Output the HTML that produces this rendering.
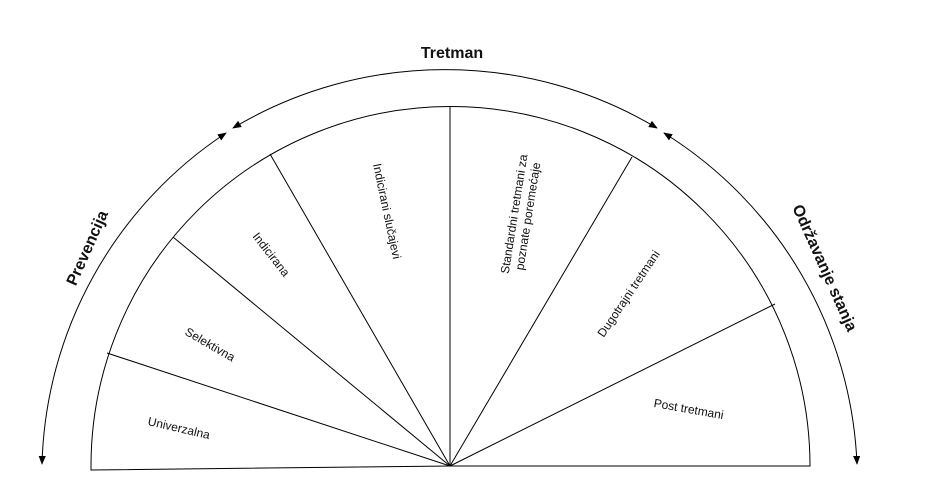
<!DOCTYPE html>
<html><head><meta charset="utf-8"><style>
html,body{margin:0;padding:0;background:#fff;}
svg{display:block;}
text{font-family:"Liberation Sans",sans-serif;fill:#111;}
</style></head><body>
<svg width="929" height="495" viewBox="0 0 929 495" xmlns="http://www.w3.org/2000/svg">
<defs>
<marker id="a" viewBox="0 0 10 10" refX="9" refY="5" markerWidth="9" markerHeight="9" orient="auto-start-reverse" markerUnits="userSpaceOnUse">
<path d="M0,1 L10,5 L0,9 z" fill="#000"/></marker>
</defs>
<g stroke="#000" stroke-width="1" fill="none">
<path d="M91,470 L450,466 L810,466 L810,466 A359,359 0 0 0 91,466 Z" fill="#fff"/>
<line x1="450" y1="466" x2="107" y2="353"/>
<line x1="450" y1="466" x2="173" y2="237"/>
<line x1="450" y1="466" x2="270" y2="154"/>
<line x1="450" y1="466" x2="450" y2="107"/>
<line x1="450" y1="466" x2="632" y2="157"/>
<line x1="450" y1="466" x2="775" y2="304"/>
<path d="M226,133 A410,410 0 0 0 42,464" marker-start="url(#a)" marker-end="url(#a)"/>
<path d="M233,128 A414,414 0 0 1 657,128" marker-start="url(#a)" marker-end="url(#a)"/>
<path d="M664,133 A410,410 0 0 1 857,464" marker-start="url(#a)" marker-end="url(#a)"/>
</g>
<text x="452" y="58" font-size="16" font-weight="bold" text-anchor="middle">Tretman</text>
<text transform="translate(92,250) rotate(-66)" font-size="16" font-weight="bold" text-anchor="middle">Prevencija</text>
<text transform="translate(820,270) rotate(66)" font-size="16" font-weight="bold" text-anchor="middle">Održavanje stanja</text>
<text transform="translate(178,432) rotate(13)" font-size="12" text-anchor="middle">Univerzalna</text>
<text transform="translate(208,348) rotate(30)" font-size="12" text-anchor="middle">Selektivna</text>
<text transform="translate(268,257) rotate(52)" font-size="12" text-anchor="middle">Indicirana</text>
<text transform="translate(383,212) rotate(78)" font-size="12" text-anchor="middle">Indicirani slučajevi</text>
<text transform="translate(520,215) rotate(-81)" font-size="12" text-anchor="middle">
<tspan x="0" dy="-2">Standardni tretmani za</tspan><tspan x="0" dy="14">poznate poremećaje</tspan></text>
<text transform="translate(632,296) rotate(-56)" font-size="12" text-anchor="middle">Dugotrajni tretmani</text>
<text transform="translate(688,413) rotate(10)" font-size="12" text-anchor="middle">Post tretmani</text>
</svg>
</body></html>
